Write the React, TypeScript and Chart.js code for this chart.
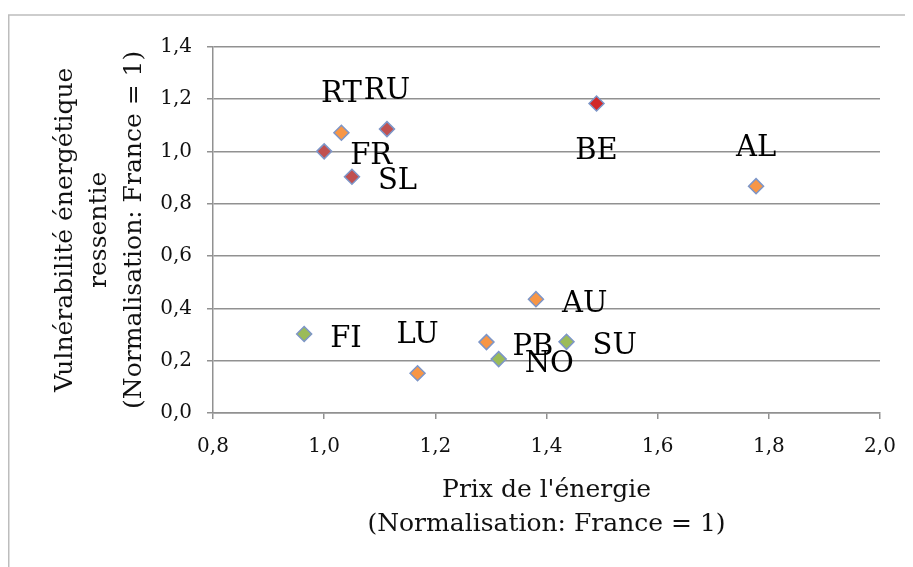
import React, { useEffect, useRef } from "react";
import { Chart, registerables } from "chart.js";

Chart.register(...registerables);

// ---- data ----
const countries = ["FR", "RT", "RU", "SL", "BE", "AL", "AU", "FI", "LU", "PB", "NO", "SU"];
const energyPrice = [1.0, 1.031, 1.113, 1.05, 1.49, 1.777, 1.381, 0.964, 1.168, 1.292, 1.314, 1.436];
const vulnerability = [1.0, 1.071, 1.085, 0.903, 1.183, 0.867, 0.435, 0.302, 0.152, 0.271, 0.206, 0.272];
const groups = ["red", "orange", "red", "red", "brightRed", "orange", "orange", "green", "orange", "orange", "green", "green"];
const labelPlacement = ["right", "above", "above", "right", "below", "above", "right", "right", "above", "right", "right", "right"];

const xTickValues = [0.8, 1.0, 1.2, 1.4, 1.6, 1.8, 2.0];
const yTickValues = [0.0, 0.2, 0.4, 0.6, 0.8, 1.0, 1.2, 1.4];

const xTitle = ["Prix de l'énergie", "(Normalisation: France = 1)"];
const yTitle = ["Vulnérabilité énergétique", "ressentie", "(Normalisation: France = 1)"];

// ---- styles ----
const groupColors: Record<string, string> = {
  red: "rgb(192,80,80)",
  brightRed: "rgb(210,40,40)",
  orange: "rgb(247,150,70)",
  green: "rgb(155,187,89)",
};
const placementOffsets: Record<string, { dx: number; dy: number; align: CanvasTextAlign }> = {
  right: { dx: 26, dy: 5, align: "left" },
  above: { dx: 0, dy: -38, align: "center" },
  below: { dx: 0, dy: 48, align: "center" },
};
const SERIF = "'DejaVu Serif', serif";
const GRID = "rgb(145,145,145)";

const fmt = (v: number) => v.toFixed(1).replace(".", ",");

const pointLabelsPlugin = {
  id: "pointLabels",
  afterDatasetsDraw(chart: any) {
    const ctx = chart.ctx;
    const meta = chart.getDatasetMeta(0);
    ctx.save();
    ctx.font = `29px ${SERIF}`;
    ctx.fillStyle = "#000";
    ctx.textBaseline = "middle";
    meta.data.forEach((pt: any, i: number) => {
      const o = placementOffsets[labelPlacement[i]];
      ctx.textAlign = o.align;
      ctx.fillText(countries[i], pt.x + o.dx, pt.y + o.dy);
    });
    ctx.restore();
  },
};

const framePlugin = {
  id: "frame",
  beforeDraw(chart: any) {
    const ctx = chart.ctx;
    ctx.save();
    ctx.strokeStyle = "#BDBDBD";
    ctx.lineWidth = 1.5;
    ctx.beginPath();
    ctx.moveTo(0.75, chart.height);
    ctx.lineTo(0.75, 7);
    ctx.lineTo(chart.width, 7);
    ctx.stroke();
    ctx.restore();
  },
};

export default function App() {
  const ref = useRef<HTMLCanvasElement>(null);
  useEffect(() => {
    if (!ref.current) return;
    const data = energyPrice.map((x, i) => ({ x, y: vulnerability[i] }));
    const colors = groups.map((g) => groupColors[g]);
    const chart = new Chart(ref.current, {
      type: "scatter",
      data: {
        datasets: [
          {
            data,
            pointStyle: "rectRot",
            pointRadius: 7.5,
            pointHoverRadius: 7.5,
            pointBackgroundColor: colors,
            pointBorderColor: "rgb(125,150,200)",
            pointBorderWidth: 1.5,
          },
        ],
      },
      options: {
        animation: false,
        responsive: true,
        maintainAspectRatio: false,
        layout: { padding: { top: 38.7, right: 33, bottom: 0, left: 0 } },
        plugins: { legend: { display: false }, tooltip: { enabled: false } },
        scales: {
          x: {
            type: "linear",
            min: 0.8,
            max: 2.0,
            afterBuildTicks: (s: any) => {
              s.ticks = xTickValues.map((value) => ({ value }));
            },
            afterFit: (s: any) => {
              s.height = 154;
            },
            ticks: {
              callback: (v: any) => fmt(Number(v)),
              font: { family: SERIF, size: 20 },
              color: "#111",
              padding: 16,
              maxRotation: 0,
            },
            grid: { drawOnChartArea: false, drawTicks: true, tickLength: 6, color: GRID, lineWidth: 1.5 },
            border: { display: true, color: GRID, width: 1.5 },
            title: {
              display: true,
              text: xTitle,
              font: { family: SERIF, size: 25, lineHeight: 1.38 },
              color: "#111",
              padding: { top: 0, bottom: 25 },
            },
          },
          y: {
            type: "linear",
            min: 0,
            max: 1.4,
            afterBuildTicks: (s: any) => {
              s.ticks = yTickValues.map((value) => ({ value }));
            },
            afterFit: (s: any) => {
              s.width = 205;
            },
            ticks: {
              callback: (v: any) => fmt(Number(v)),
              font: { family: SERIF, size: 20 },
              color: "#111",
              padding: 15,
            },
            grid: { drawTicks: true, tickLength: 6, color: GRID, lineWidth: 1.5 },
            border: { display: true, color: GRID, width: 1.5 },
            title: {
              display: true,
              text: yTitle,
              font: { family: SERIF, size: 25, lineHeight: 1.38 },
              color: "#111",
              padding: { top: 40, bottom: 0 },
            },
          },
        },
      },
      plugins: [framePlugin, pointLabelsPlugin],
    });
    return () => chart.destroy();
  }, []);
  return (
    <div style={{ width: 905, height: 559, position: "relative" }}>
      <canvas ref={ref} />
    </div>
  );
}
